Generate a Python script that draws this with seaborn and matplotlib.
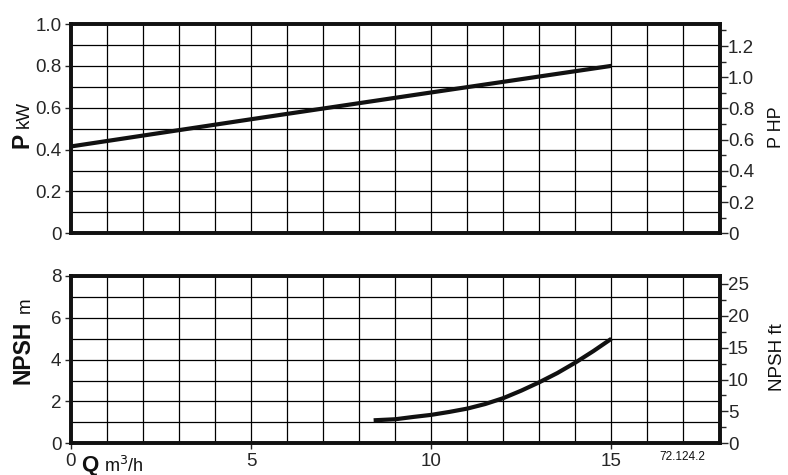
import matplotlib
matplotlib.use("Agg")
import matplotlib.pyplot as plt
import seaborn as sns
import numpy as np
import pandas as pd
from matplotlib.ticker import MultipleLocator

# ---- data ----
q_power = [0, 5, 10, 15]
p_kw = [0.415, 0.545, 0.673, 0.80]

q_npsh = [8.4, 9, 9.5, 10, 10.5, 11, 11.5, 12, 12.5, 13, 13.5, 14, 14.5, 15]
npsh_m = [1.10, 1.15, 1.26, 1.36, 1.50, 1.66, 1.88, 2.16, 2.52, 2.92, 3.36, 3.86, 4.41, 5.0]

x_ticks = [0, 5, 10, 15]
p_ticks = [0, 0.2, 0.4, 0.6, 0.8, 1.0]
p_tick_labels = ["0", "0.2", "0.4", "0.6", "0.8", "1.0"]
hp_ticks = [0, 0.2, 0.4, 0.6, 0.8, 1.0, 1.2]
hp_tick_labels = ["0", "0.2", "0.4", "0.6", "0.8", "1.0", "1.2"]
npsh_ticks = [0, 2, 4, 6, 8]
ft_ticks = [0, 5, 10, 15, 20, 25]

KW_TO_HP = 1.341
M_TO_FT = 3.2808

sns.set_style("white")
plt.rcParams['font.family'] = ['Liberation Sans', 'DejaVu Sans']

W, H = 788, 475
fig = plt.figure(figsize=(W / 100, H / 100), dpi=100)

def px(x, y):
    return x / W, 1 - y / H

L, R = 71, 719.5
ax1 = fig.add_axes([L / W, 1 - 233.3 / H, (R - L) / W, (233.3 - 24) / H])
ax2 = fig.add_axes([L / W, 1 - 443.3 / H, (R - L) / W, (443.3 - 276) / H])

df_p = pd.DataFrame({"Q": q_power, "P": p_kw})
df_n = pd.DataFrame({"Q": q_npsh, "NPSH": npsh_m})

sns.lineplot(data=df_p, x="Q", y="P", ax=ax1, color="#111111", lw=3.0,
             solid_capstyle="butt", solid_joinstyle="round", zorder=5)
sns.lineplot(data=df_n, x="Q", y="NPSH", ax=ax2, color="#111111", lw=3.0,
             solid_capstyle="butt", solid_joinstyle="round", zorder=5)

tick_fs = 13.5
for ax in (ax1, ax2):
    ax.set_xlim(0, 18)
    ax.set_xlabel("")
    ax.set_ylabel("")
    ax.xaxis.set_minor_locator(MultipleLocator(1))
    ax.grid(which="both", color="black", lw=0.9)
    ax.set_axisbelow(True)
    for s in ax.spines.values():
        s.set_linewidth(2.6)
        s.set_color("#111111")
        s.set_zorder(6)
    ax.tick_params(which="minor", length=0)
    ax.tick_params(which="major", axis="y", direction="out", length=4, width=1,
                   labelsize=tick_fs, pad=3, left=True)

# top axes
ax1.set_ylim(0, 1.0)
ax1.set_xticks(x_ticks)
ax1.tick_params(axis="x", length=0, labelbottom=False)
ax1.yaxis.set_minor_locator(MultipleLocator(0.1))
ax1.set_yticks(p_ticks)
ax1.set_yticklabels(p_tick_labels)

# bottom axes
ax2.set_ylim(0, 8)
ax2.set_xticks(x_ticks)
ax2.set_xticklabels([str(t) for t in x_ticks])
ax2.tick_params(axis="x", which="major", direction="out", length=4, width=1,
                labelsize=tick_fs, pad=3, bottom=True)
ax2.yaxis.set_minor_locator(MultipleLocator(1))
ax2.set_yticks(npsh_ticks)

# twin axes
t1 = ax1.twinx()
t1.set_ylim(0, 1.0 * KW_TO_HP)
t1.set_yticks(hp_ticks)
t1.set_yticklabels(hp_tick_labels)
t1.yaxis.set_minor_locator(MultipleLocator(0.1))

t2 = ax2.twinx()
t2.set_ylim(0, 8 * M_TO_FT)
t2.set_yticks(ft_ticks)
t2.yaxis.set_minor_locator(MultipleLocator(2.5))

for t in (t1, t2):
    t.grid(False)
    for s in t.spines.values():
        s.set_linewidth(2.6)
        s.set_color("#111111")
    t.tick_params(which="major", axis="y", direction="out", length=6, width=1,
                  labelsize=tick_fs, pad=0, right=True)
    t.tick_params(which="minor", axis="y", direction="out", length=4, width=1,
                  right=True)

# axis labels
def rot_text(x, y, s, size, weight="normal"):
    fig.text(*px(x, y), s, rotation=90, rotation_mode="anchor", ha="left",
             va="baseline", fontsize=size, fontweight=weight, color="#111111")

rot_text(28.5, 148, "P", 16.5, "bold")
rot_text(28.5, 128, "kW", 13.5)
rot_text(29.5, 384, "NPSH", 16.5, "bold")
rot_text(29.5, 313, "m", 13.5)

fig.text(*px(781, 148), "P HP", rotation=90, rotation_mode="anchor", ha="left",
         va="baseline", fontsize=13, color="#111111")
fig.text(*px(782, 391), "NPSH ft", rotation=90, rotation_mode="anchor", ha="left",
         va="baseline", fontsize=13.5, color="#111111")

fig.text(*px(81, 471.5), "Q", fontsize=16, fontweight="bold", ha="left",
         va="baseline", color="#111111")
fig.text(*px(104, 471.5), "m$^3$/h", fontsize=13, ha="left", va="baseline",
         color="#111111")
fig.text(*px(659, 460), "72.124.2", fontsize=8.5, ha="left", va="baseline",
         color="#111111")

fig.savefig("out.png", dpi=100)
